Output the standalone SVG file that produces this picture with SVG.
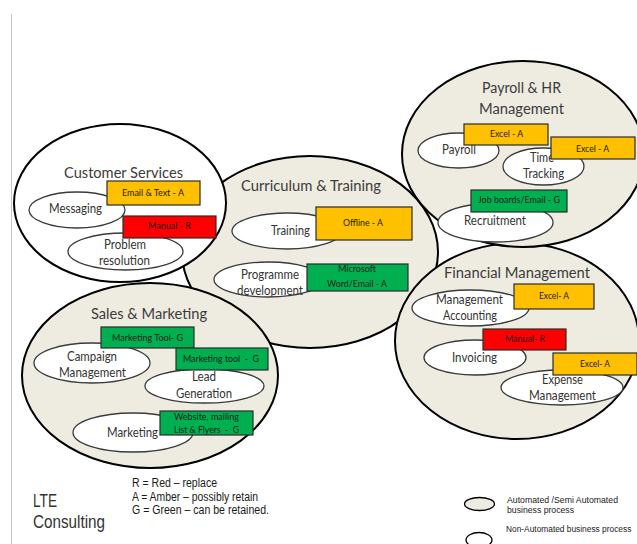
<svg xmlns="http://www.w3.org/2000/svg" width="637" height="544" viewBox="0 0 637 544">
<style>
.outer{fill:#EEECE1;stroke:#000;stroke-width:2}
.outerw{fill:#fff;stroke:#000;stroke-width:2}
.inner{fill:#fff;stroke:#3a3a3a;stroke-width:1.3}
.box{stroke:#2b2b2b;stroke-width:1.2}
.amber{fill:#FFC000}
.red{fill:#FF0000}
.green{fill:#00B050}
text{font-family:Lato,"Open Sans","Noto Sans",sans-serif}
.title{font-size:15.5px;fill:#3b3b3b}
.lbl{font-size:12.5px;fill:#333}
.bt{font-size:9.5px;fill:#1a1a1a;white-space:pre}
.lg{font-family:"Liberation Sans Narrow","Liberation Sans",Arial,sans-serif;fill:#1a1a1a}
</style>
<rect width="637" height="544" fill="#fff"/>
<line x1="11.5" y1="14" x2="11.5" y2="544" stroke="#c6c6c6" stroke-width="1"/>
<g id="connectors"/>

<g id="curriculum-training">
<ellipse class="outer" cx="310" cy="252" rx="128" ry="96"/>
<text class="title" x="241" y="191" textLength="140" lengthAdjust="spacingAndGlyphs">Curriculum &amp; Training</text>
<ellipse class="inner" cx="287" cy="231" rx="55" ry="18"/>
<text class="lbl" x="271" y="235" textLength="39" lengthAdjust="spacingAndGlyphs">Training</text>
<rect class="box amber" x="316" y="207" width="96" height="33"/>
<text class="bt" x="343" y="226" textLength="40" lengthAdjust="spacingAndGlyphs">Offline - A</text>
<ellipse class="inner" cx="268.5" cy="279.5" rx="54.5" ry="17.5"/>
<text class="lbl" x="241" y="279" textLength="58" lengthAdjust="spacingAndGlyphs">Programme</text>
<text class="lbl" x="237" y="295" textLength="66" lengthAdjust="spacingAndGlyphs">development</text>
<rect class="box green" x="307" y="264" width="101" height="27"/>
<text class="bt" x="338" y="272" textLength="38" lengthAdjust="spacingAndGlyphs">Microsoft</text>
<text class="bt" x="327" y="287" textLength="60" lengthAdjust="spacingAndGlyphs">Word/Email - A</text>
</g>

<g id="customer-services">
<ellipse class="outerw" cx="120" cy="203" rx="106" ry="79"/>
<text class="title" x="64" y="178" textLength="119" lengthAdjust="spacingAndGlyphs">Customer Services</text>
<ellipse class="inner" cx="77" cy="210" rx="48" ry="18"/>
<text class="lbl" x="49" y="213" textLength="53" lengthAdjust="spacingAndGlyphs">Messaging</text>
<rect class="box amber" x="107" y="181" width="93" height="24"/>
<text class="bt" x="122" y="196" textLength="62" lengthAdjust="spacingAndGlyphs">Email &amp; Text - A</text>
<ellipse class="inner" cx="125.5" cy="251.5" rx="57.5" ry="18.5"/>
<text class="lbl" x="104" y="249" textLength="42" lengthAdjust="spacingAndGlyphs">Problem</text>
<text class="lbl" x="99" y="265" textLength="51" lengthAdjust="spacingAndGlyphs">resolution</text>
<rect class="box red" x="123" y="216" width="93" height="22"/>
<text class="bt" x="148" y="229" textLength="43" lengthAdjust="spacingAndGlyphs">Manual - R</text>
</g>

<g id="sales-marketing">
<ellipse class="outer" cx="150" cy="375.5" rx="128" ry="92.5"/>
<text class="title" x="91" y="319" textLength="116" lengthAdjust="spacingAndGlyphs">Sales &amp; Marketing</text>
<ellipse class="inner" cx="92" cy="363" rx="58" ry="20"/>
<text class="lbl" x="67" y="361" textLength="50" lengthAdjust="spacingAndGlyphs">Campaign</text>
<text class="lbl" x="59" y="377" textLength="67" lengthAdjust="spacingAndGlyphs">Management</text>
<rect class="box green" x="101" y="327" width="93" height="21"/>
<text class="bt" x="112" y="341" textLength="71" lengthAdjust="spacingAndGlyphs">Marketing Tool- G</text>
<ellipse class="inner" cx="204.5" cy="386" rx="59.5" ry="17"/>
<text class="lbl" x="192" y="381" textLength="24" lengthAdjust="spacingAndGlyphs">Lead</text>
<text class="lbl" x="176" y="398" textLength="56" lengthAdjust="spacingAndGlyphs">Generation</text>
<rect class="box green" x="176" y="348" width="92" height="22"/>
<text class="bt" x="183" y="362" textLength="76" lengthAdjust="spacingAndGlyphs">Marketing tool  -  G</text>
<ellipse class="inner" cx="133" cy="432.5" rx="60" ry="19.5"/>
<text class="lbl" x="107" y="437" textLength="51" lengthAdjust="spacingAndGlyphs">Marketing</text>
<rect class="box green" x="160" y="411" width="93" height="24"/>
<text class="bt" x="174" y="420" textLength="65" lengthAdjust="spacingAndGlyphs">Website, mailing</text>
<text class="bt" x="174" y="433" textLength="65" lengthAdjust="spacingAndGlyphs">List &amp; Flyers  -  G</text>
</g>

<g id="financial-management">
<ellipse class="outer" cx="517" cy="341" rx="122" ry="98"/>
<text class="title" x="444" y="278" textLength="146" lengthAdjust="spacingAndGlyphs">Financial Management</text>
<ellipse class="inner" cx="470.5" cy="308" rx="58.5" ry="18"/>
<text class="lbl" x="436" y="304" textLength="67" lengthAdjust="spacingAndGlyphs">Management</text>
<text class="lbl" x="443" y="320" textLength="54" lengthAdjust="spacingAndGlyphs">Accounting</text>
<rect class="box amber" x="514" y="284" width="80" height="25"/>
<text class="bt" x="539" y="299" textLength="30" lengthAdjust="spacingAndGlyphs">Excel- A</text>
<ellipse class="inner" cx="475" cy="357.5" rx="51" ry="17.5"/>
<text class="lbl" x="452" y="362" textLength="45" lengthAdjust="spacingAndGlyphs">Invoicing</text>
<rect class="box red" x="483" y="329" width="83" height="21"/>
<text class="bt" x="505" y="342" textLength="40" lengthAdjust="spacingAndGlyphs">Manual- R</text>
<ellipse class="inner" cx="562" cy="387.5" rx="61" ry="17.5"/>
<text class="lbl" x="542" y="384" textLength="41" lengthAdjust="spacingAndGlyphs">Expense</text>
<text class="lbl" x="529" y="400" textLength="67" lengthAdjust="spacingAndGlyphs">Management</text>
<rect class="box amber" x="553" y="353" width="84" height="22"/>
<text class="bt" x="580" y="367" textLength="30" lengthAdjust="spacingAndGlyphs">Excel- A</text>
</g>

<g id="payroll-hr">
<ellipse class="outer" cx="523" cy="154" rx="121" ry="93"/>
<text class="title" x="482" y="93" textLength="79" lengthAdjust="spacingAndGlyphs">Payroll &amp; HR</text>
<text class="title" x="479" y="114" textLength="85" lengthAdjust="spacingAndGlyphs">Management</text>
<ellipse class="inner" cx="458.5" cy="150.5" rx="40.5" ry="17.5"/>
<text class="lbl" x="442" y="154" textLength="34" lengthAdjust="spacingAndGlyphs">Payroll</text>
<rect class="box amber" x="464" y="124" width="84" height="21"/>
<text class="bt" x="490" y="137" textLength="33" lengthAdjust="spacingAndGlyphs">Excel - A</text>
<ellipse class="inner" cx="543.5" cy="166.5" rx="40.5" ry="18.5"/>
<text class="lbl" x="530" y="162" textLength="24" lengthAdjust="spacingAndGlyphs">Time</text>
<text class="lbl" x="523" y="178" textLength="41" lengthAdjust="spacingAndGlyphs">Tracking</text>
<rect class="box amber" x="551" y="137" width="84" height="22"/>
<text class="bt" x="576" y="152" textLength="33" lengthAdjust="spacingAndGlyphs">Excel - A</text>
<ellipse class="inner" cx="495.5" cy="222.5" rx="57.5" ry="19.5"/>
<text class="lbl" x="464" y="225" textLength="62" lengthAdjust="spacingAndGlyphs">Recruitment</text>
<rect class="box green" x="471" y="190" width="96" height="22"/>
<text class="bt" x="478" y="203" textLength="82" lengthAdjust="spacingAndGlyphs">Job boards/Email - G</text>
</g>

<g id="legend">
<text class="lg" x="132" y="487" font-size="12" textLength="85" lengthAdjust="spacingAndGlyphs">R = Red – replace</text>
<text class="lg" x="132" y="501" font-size="12" textLength="126" lengthAdjust="spacingAndGlyphs">A = Amber – possibly retain</text>
<text class="lg" x="132" y="514" font-size="12" textLength="137" lengthAdjust="spacingAndGlyphs">G = Green – can be retained.</text>
<text class="lg" x="33" y="507" font-size="19" style="fill:#333" textLength="24" lengthAdjust="spacingAndGlyphs">LTE</text>
<text class="lg" x="33" y="528" font-size="19" style="fill:#333" textLength="72" lengthAdjust="spacingAndGlyphs">Consulting</text>
<ellipse cx="479.5" cy="504" rx="15" ry="6.5" fill="#EEECE1" stroke="#000" stroke-width="1.3"/>
<ellipse cx="479" cy="540" rx="13" ry="7.5" fill="#fff" stroke="#000" stroke-width="1.3"/>
<text class="lg" x="507" y="503" font-size="9.5" textLength="111" lengthAdjust="spacingAndGlyphs">Automated /Semi Automated</text>
<text class="lg" x="507" y="513" font-size="9.5" textLength="67" lengthAdjust="spacingAndGlyphs">business process</text>
<text class="lg" transform="translate(506,532) scale(0.88,1)" x="0" y="0" font-size="9.5">Non-Automated business process</text>
</g>
</svg>
